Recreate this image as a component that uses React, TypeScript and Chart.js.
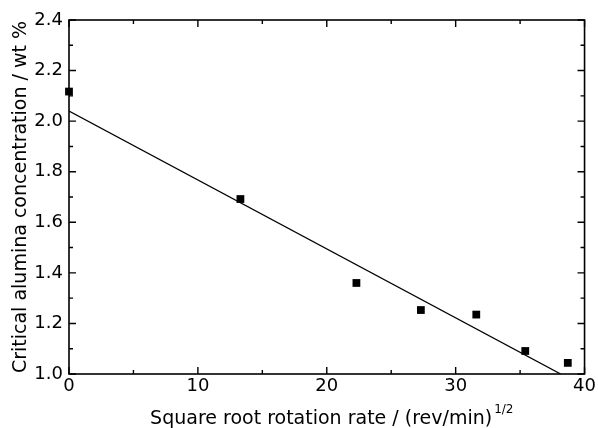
import React, { useEffect, useRef } from "react";
import { Chart, registerables } from "chart.js";

Chart.register(...registerables);

const rootRate = [0, 13.3, 22.3, 27.3, 31.6, 35.4, 38.7];
const criticalAlumina = [2.117, 1.692, 1.36, 1.253, 1.235, 1.091, 1.044];

// Fitted straight line end points
const fitX = [0, 38.15];
const fitY = [2.04, 1.0];

// Axis ticks
const xMajorTicks = [0, 10, 20, 30, 40];
const xMinorTicks = [5, 15, 25, 35];
const yMajorTicks = [1.0, 1.2, 1.4, 1.6, 1.8, 2.0, 2.2, 2.4];
const yMinorTicks = [1.1, 1.3, 1.5, 1.7, 1.9, 2.1, 2.3];

const yTitle = "Critical alumina concentration / wt %";
const xTitle = "Square root rotation rate / (rev/min)";
const xTitleSup = "1/2";

const FONT = "'DejaVu Sans', 'Liberation Sans', sans-serif";

const framePlugin = {
  id: "frameTicks",
  afterDraw(chart: any) {
    const { ctx, chartArea } = chart;
    const { left, right, top, bottom } = chartArea;
    const xs = chart.scales.x;
    const ys = chart.scales.y;
    ctx.save();
    ctx.strokeStyle = "#000";
    ctx.lineWidth = 1.6;
    ctx.strokeRect(left, top, right - left, bottom - top);
    ctx.lineWidth = 1.4;
    const major = 7;
    const minor = 4;
    ctx.beginPath();
    const xTick = (v: number, len: number) => {
      const px = xs.getPixelForValue(v);
      ctx.moveTo(px, bottom);
      ctx.lineTo(px, bottom - len);
      ctx.moveTo(px, top);
      ctx.lineTo(px, top + len);
    };
    const yTick = (v: number, len: number) => {
      const py = ys.getPixelForValue(v);
      ctx.moveTo(left, py);
      ctx.lineTo(left + len, py);
      ctx.moveTo(right, py);
      ctx.lineTo(right - len, py);
    };
    xMajorTicks.forEach((v) => xTick(v, major));
    xMinorTicks.forEach((v) => xTick(v, minor));
    yMajorTicks.forEach((v) => yTick(v, major));
    yMinorTicks.forEach((v) => yTick(v, minor));
    ctx.stroke();

    // x-axis title with superscript
    ctx.fillStyle = "#000";
    ctx.textBaseline = "alphabetic";
    ctx.textAlign = "left";
    ctx.font = `19px ${FONT}`;
    const mainW = ctx.measureText(xTitle).width;
    ctx.font = `12px ${FONT}`;
    const supW = ctx.measureText(xTitleSup).width;
    const total = mainW + 2 + supW;
    const cx = (left + right) / 2 + 5;
    const x0 = cx - total / 2;
    const baseY = 424;
    ctx.font = `19px ${FONT}`;
    ctx.fillText(xTitle, x0, baseY);
    ctx.font = `12px ${FONT}`;
    ctx.fillText(xTitleSup, x0 + mainW + 2, baseY - 11);
    ctx.restore();
  },
};

export default function App() {
  const ref = useRef<HTMLCanvasElement | null>(null);
  useEffect(() => {
    document.body.style.margin = "0";
    const canvas = ref.current;
    if (!canvas) return;
    const chart = new Chart(canvas, {
      type: "scatter",
      data: {
        datasets: [
          {
            type: "line",
            label: "fit",
            data: fitX.map((x, i) => ({ x, y: fitY[i] })),
            borderColor: "#000",
            borderWidth: 1.3,
            pointRadius: 0,
            fill: false,
            tension: 0,
          } as any,
          {
            type: "scatter",
            label: "data",
            data: rootRate.map((x, i) => ({ x, y: criticalAlumina[i] })),
            pointStyle: "rect",
            pointRadius: 5.5,
            pointBackgroundColor: "#000",
            pointBorderColor: "#000",
            pointBorderWidth: 0,
            clip: false,
          } as any,
        ],
      },
      options: {
        animation: false,
        responsive: false,
        layout: { padding: { top: 20, right: 12, left: 0, bottom: 0 } },
        plugins: {
          legend: { display: false },
          tooltip: { enabled: false },
        },
        scales: {
          x: {
            type: "linear",
            min: 0,
            max: 40,
            grid: { display: false, drawTicks: false },
            border: { display: false },
            ticks: {
              stepSize: 10,
              color: "#000",
              padding: 2,
              maxRotation: 0,
              autoSkip: false,
              font: { family: FONT, size: 18 },
            },
            afterFit: (s: any) => {
              s.height = 54;
            },
          },
          y: {
            type: "linear",
            min: 1.0,
            max: 2.4,
            grid: { display: false, drawTicks: false },
            border: { display: false },
            ticks: {
              stepSize: 0.2,
              color: "#000",
              padding: 6,
              autoSkip: false,
              font: { family: FONT, size: 18 },
              callback: (v: any) => Number(v).toFixed(1),
            },
            title: {
              display: true,
              text: yTitle,
              color: "#000",
              font: { family: FONT, size: 19 },
              padding: { top: 10, bottom: 0 },
            },
            afterFit: (s: any) => {
              s.width = 69;
            },
          },
        },
      },
      plugins: [framePlugin],
    });
    return () => chart.destroy();
  }, []);
  return (
    <div style={{ position: "fixed", left: 0, top: 0, width: 598, height: 428, background: "#fff" }}>
      <canvas ref={ref} width={598} height={428} />
    </div>
  );
}
